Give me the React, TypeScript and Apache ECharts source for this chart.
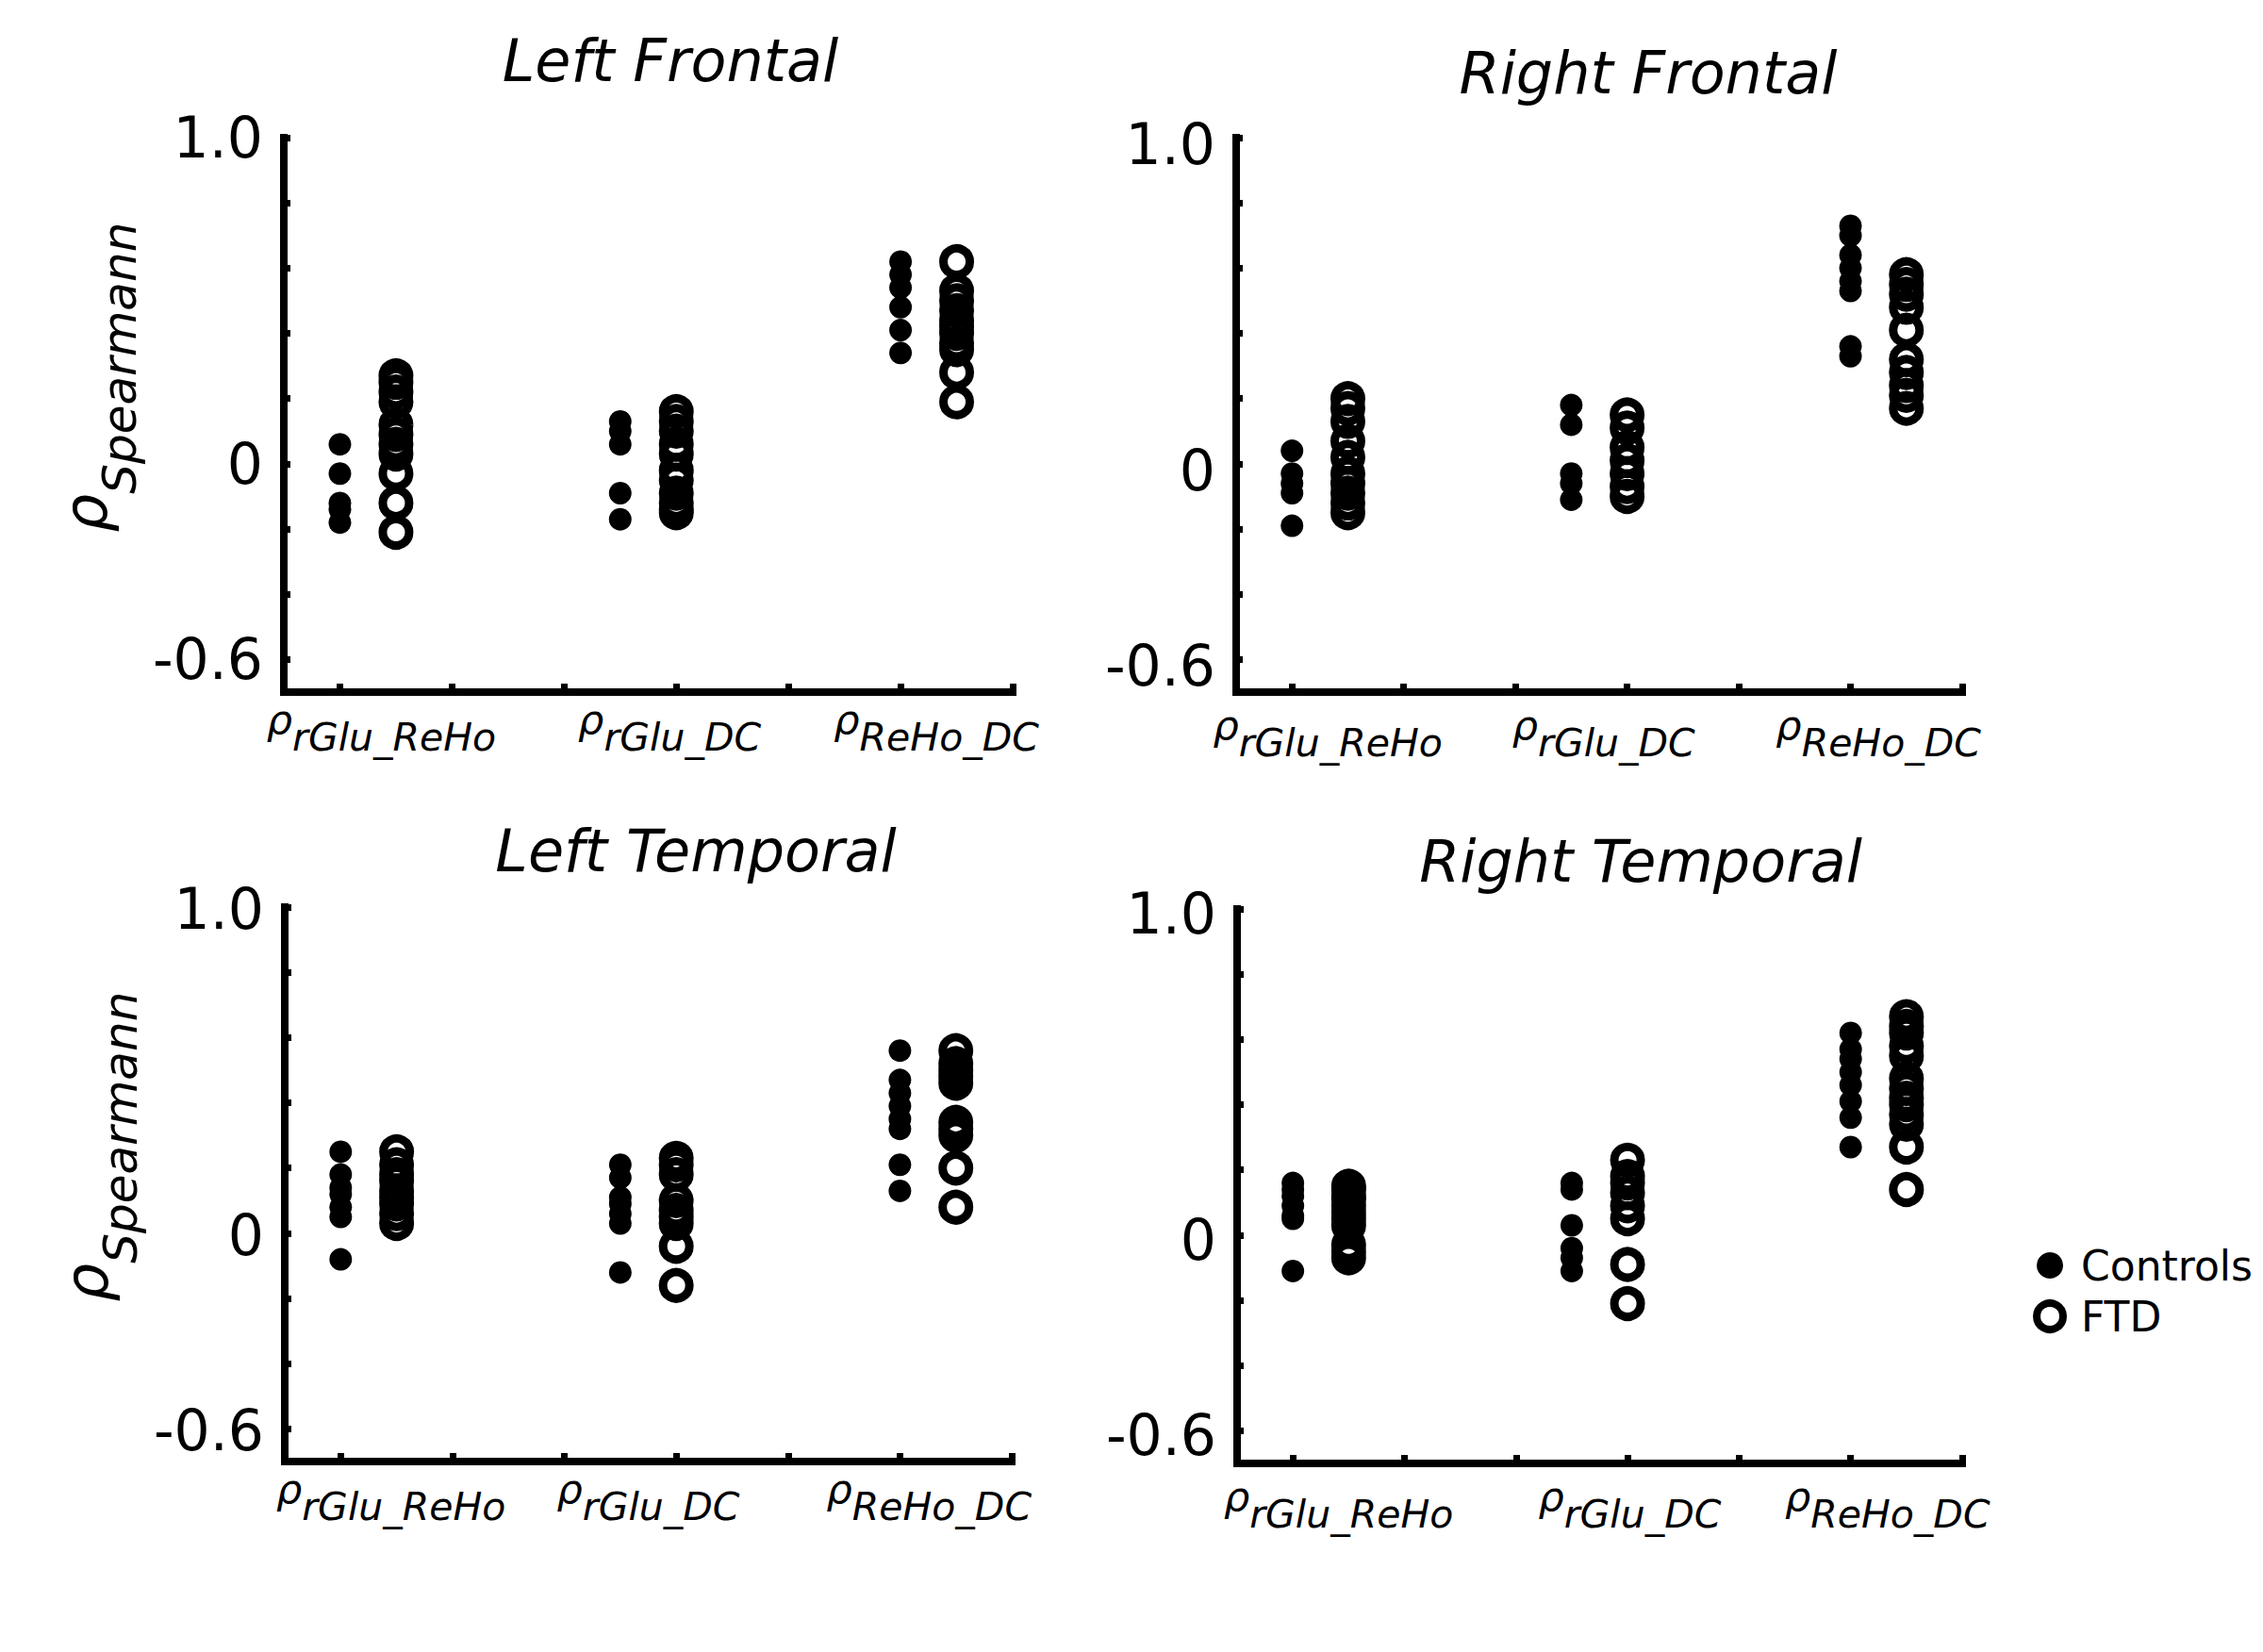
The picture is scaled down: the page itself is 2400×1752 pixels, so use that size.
import React, { useEffect, useRef } from 'react';
import * as echarts from 'echarts';

// ---------- data ----------
const categories = ['rGlu_ReHo', 'rGlu_DC', 'ReHo_DC'];
const panelTitles = ['Left Frontal', 'Right Frontal', 'Left Temporal', 'Right Temporal'];
const seriesNames = ['Controls', 'FTD'];
const yTickValues = [-0.6, -0.4, -0.2, 0, 0.2, 0.4, 0.6, 0.8, 1.0];
const yLabelValues = [-0.6, 0, 1.0];
const xTickValues = [0.5, 1.5, 2.5, 3.5, 4.5, 5.5, 6.5];
const controlsX = [0.5, 3, 5.5];
const ftdX = [1, 3.5, 6];

const leftFrontalControls = [
  [0.06, -0.03, -0.12, -0.14, -0.18],
  [0.13, 0.10, 0.06, -0.09, -0.17],
  [0.62, 0.58, 0.54, 0.48, 0.41, 0.34],
];
const leftFrontalFTD = [
  [0.27, 0.25, 0.22, 0.19, 0.12, 0.09, 0.06, 0.03, -0.03, -0.12, -0.21],
  [0.16, 0.13, 0.10, 0.06, 0.03, -0.02, -0.05, -0.09, -0.12, -0.14, -0.15],
  [0.62, 0.53, 0.50, 0.47, 0.44, 0.42, 0.40, 0.37, 0.35, 0.28, 0.19],
];
const rightFrontalControls = [
  [0.04, -0.03, -0.06, -0.09, -0.19],
  [0.18, 0.12, -0.03, -0.06, -0.11],
  [0.73, 0.70, 0.64, 0.60, 0.56, 0.53, 0.36, 0.33],
];
const rightFrontalFTD = [
  [0.20, 0.17, 0.13, 0.07, 0.02, -0.03, -0.06, -0.09, -0.12, -0.15],
  [0.15, 0.11, 0.05, 0.01, -0.03, -0.07, -0.10],
  [0.58, 0.55, 0.52, 0.48, 0.41, 0.32, 0.28, 0.24, 0.21, 0.17],
];
const leftTemporalControls = [
  [0.25, 0.18, 0.14, 0.12, 0.08, 0.05, -0.08],
  [0.21, 0.17, 0.11, 0.09, 0.06, 0.03, -0.12],
  [0.56, 0.47, 0.43, 0.39, 0.35, 0.32, 0.21, 0.13],
];
const leftTemporalFTD = [
  [0.25, 0.21, 0.18, 0.16, 0.13, 0.11, 0.09, 0.06, 0.03],
  [0.23, 0.21, 0.18, 0.10, 0.07, 0.05, 0.03, -0.04, -0.16],
  [0.56, 0.52, 0.50, 0.48, 0.46, 0.34, 0.32, 0.30, 0.20, 0.08],
];
const rightTemporalControls = [
  [0.16, 0.14, 0.12, 0.09, 0.06, 0.05, -0.11],
  [0.16, 0.14, 0.03, -0.04, -0.07, -0.11],
  [0.62, 0.57, 0.54, 0.50, 0.46, 0.41, 0.36, 0.27],
];
const rightTemporalFTD = [
  [0.15, 0.14, 0.12, 0.11, 0.09, 0.07, 0.05, 0.03, -0.03, -0.05, -0.07],
  [0.23, 0.18, 0.16, 0.13, 0.09, 0.05, -0.09, -0.21],
  [0.67, 0.64, 0.62, 0.58, 0.55, 0.48, 0.45, 0.42, 0.40, 0.37, 0.34, 0.27, 0.14],
];

// ---------- layout ----------
const FONT = "'DejaVu Sans', sans-serif";

const panels = [
  {
    title: panelTitles[0], controls: leftFrontalControls, ftd: leftFrontalFTD,
    grid: { left: 301, top: 146, width: 773, height: 588 },
    titleX: 711, titleTop: 28, labelX: [0.87, 3.44, 5.82], labelMargin: -11, yLabelShift: 0, yName: true,
  },
  {
    title: panelTitles[1], controls: rightFrontalControls, ftd: rightFrontalFTD,
    grid: { left: 1311, top: 146, width: 770, height: 588 },
    titleX: 1748, titleTop: 41, labelX: [0.82, 3.29, 5.75], labelMargin: -5, yLabelShift: 7, yName: false,
  },
  {
    title: panelTitles[2], controls: leftTemporalControls, ftd: leftTemporalFTD,
    grid: { left: 302, top: 962, width: 771, height: 588 },
    titleX: 738, titleTop: 866, labelX: [0.95, 3.25, 5.76], labelMargin: -11, yLabelShift: 2, yName: true,
  },
  {
    title: panelTitles[3], controls: rightTemporalControls, ftd: rightTemporalFTD,
    grid: { left: 1312, top: 964, width: 769, height: 588 },
    titleX: 1740, titleTop: 877, labelX: [0.91, 3.52, 5.83], labelMargin: -5, yLabelShift: 5, yName: false,
  },
];

const toPoints = (groups: number[][], xs: number[]) =>
  groups.flatMap((vals, g) => vals.map((v) => [xs[g], v]));

const fmtY = (v: number) => {
  if (Math.abs(v - 1) < 1e-9) return '1.0';
  if (Math.abs(v) < 1e-9) return '0';
  return v.toFixed(1);
};

function buildOption() {
  const grid = panels.map((p) => ({ ...p.grid, containLabel: false }));

  const xAxis = panels.map((p, i) => ({
    gridIndex: i,
    type: 'value',
    min: 0,
    max: 6.5,
    splitLine: { show: false },
    axisLine: { show: true, onZero: false, lineStyle: { color: '#000', width: 8, cap: 'square' } },
    axisTick: {
      show: true, inside: true, length: 9, customValues: xTickValues,
      lineStyle: { color: '#000', width: 7 },
    },
    axisLabel: {
      show: true,
      customValues: p.labelX,
      margin: p.labelMargin,
      color: '#000',
      formatter: (v: number) => {
        let idx = 0;
        p.labelX.forEach((x, k) => { if (Math.abs(x - v) < Math.abs(p.labelX[idx] - v)) idx = k; });
        return '{r|ρ}{s|' + categories[idx] + '}';
      },
      rich: {
        r: { fontSize: 43, fontStyle: 'italic', lineHeight: 79, fontFamily: FONT, color: '#000' },
        s: { fontSize: 41, fontStyle: 'italic', lineHeight: 41, verticalAlign: 'bottom', fontFamily: FONT, color: '#000' },
      },
    },
  }));

  const yAxis = panels.map((p, i) => ({
    gridIndex: i,
    type: 'value',
    min: -0.7,
    max: 1.0,
    splitLine: { show: false },
    axisLine: { show: true, onZero: false, lineStyle: { color: '#000', width: 8, cap: 'square' } },
    axisTick: {
      show: true, inside: true, length: 7, customValues: yTickValues,
      lineStyle: { color: '#000', width: 7 },
    },
    axisLabel: {
      show: true,
      customValues: yLabelValues,
      formatter: fmtY,
      fontSize: 60,
      fontFamily: FONT,
      color: '#000',
      margin: 22,
      ...(p.yLabelShift > 0 ? { verticalAlign: 'top', lineHeight: p.yLabelShift * 2 } : {}),
    },
    ...(p.yName
      ? {
          name: '{r|ρ}{s|Spearmann}',
          nameLocation: 'middle',
          nameRotate: 90,
          nameGap: 149,
          nameTextStyle: {
            padding: [0, 0, 0, 80],
            rich: {
              r: { fontSize: 64, fontStyle: 'italic', lineHeight: 122, fontFamily: FONT, color: '#000' },
              s: { fontSize: 50, fontStyle: 'italic', lineHeight: 50, verticalAlign: 'bottom', fontFamily: FONT, color: '#000' },
            },
          },
        }
      : {}),
  }));

  const series: any[] = [];
  panels.forEach((p, i) => {
    series.push({
      type: 'scatter',
      name: seriesNames[0],
      xAxisIndex: i,
      yAxisIndex: i,
      data: toPoints(p.controls, controlsX),
      symbol: 'circle',
      symbolSize: 24,
      itemStyle: { color: '#000', opacity: 1 },
      silent: true,
      emphasis: { disabled: true },
    });
    series.push({
      type: 'scatter',
      name: seriesNames[1],
      xAxisIndex: i,
      yAxisIndex: i,
      data: toPoints(p.ftd, ftdX),
      symbol: 'circle',
      symbolSize: 28,
      itemStyle: { color: 'rgba(0,0,0,0)', borderColor: '#000', borderWidth: 9, opacity: 1 },
      silent: true,
      emphasis: { disabled: true },
    });
  });

  const title = panels.map((p) => ({
    text: p.title,
    left: p.titleX - 5,
    top: p.titleTop,
    textAlign: 'center',
    textStyle: { fontSize: 62, fontStyle: 'italic', fontWeight: 'normal', fontFamily: FONT, color: '#000' },
  }));

  return {
    animation: false,
    backgroundColor: '#fff',
    textStyle: { fontFamily: FONT },
    title,
    grid,
    xAxis,
    yAxis,
    series,
    legend: {
      orient: 'vertical',
      left: 2151,
      top: 1315,
      itemWidth: 40,
      itemHeight: 28,
      itemGap: 10,
      selectedMode: false,
      textStyle: { fontSize: 44, fontFamily: FONT, color: '#000', padding: [0, 0, 0, 8] },
      data: [
        { name: seriesNames[0], icon: 'circle', itemStyle: { color: '#000', borderWidth: 0 } },
        { name: seriesNames[1], icon: 'circle', itemStyle: { color: 'rgba(0,0,0,0)', borderColor: '#000', borderWidth: 8 } },
      ],
    },
  };
}

export default function App() {
  const ref = useRef<HTMLDivElement>(null);
  useEffect(() => {
    if (!ref.current) return;
    const chart = echarts.init(ref.current, undefined, { renderer: 'svg' });
    chart.setOption(buildOption() as any);
    return () => chart.dispose();
  }, []);
  return (
    <div
      ref={ref}
      style={{ position: 'absolute', left: 0, top: 0, width: 2400, height: 1752, background: '#fff' }}
    />
  );
}
